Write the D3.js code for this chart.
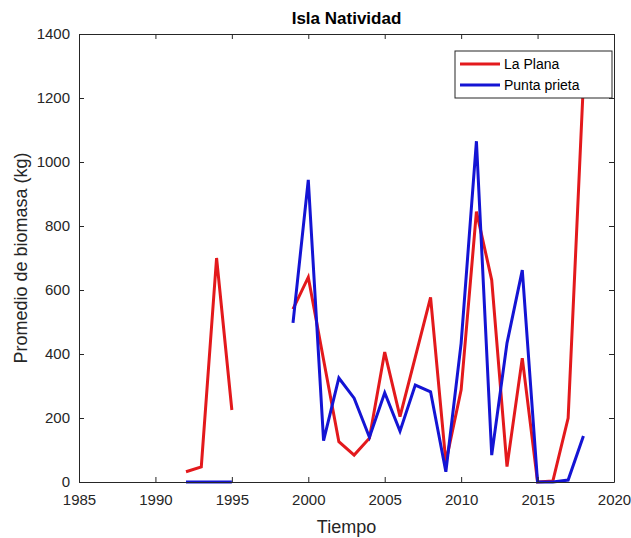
<!DOCTYPE html>
<html>
<head>
<meta charset="utf-8">
<script src="https://cdn.jsdelivr.net/npm/d3@7"></script>
<style>
  html, body { margin: 0; padding: 0; background: #fff; }
  svg { display: block; font-family: "Liberation Sans", Arial, sans-serif; }
</style>
</head>
<body>
<svg id="chart" width="631" height="538"></svg>
<script>
// Annual mean biomass per site (kg); null = no survey that year
const years = [1992, 1993, 1994, 1995, 1996, 1997, 1998, 1999, 2000, 2001, 2002, 2003, 2004, 2005,
               2006, 2007, 2008, 2009, 2010, 2011, 2012, 2013, 2014, 2015, 2016, 2017, 2018];
const laPlana = [32, 47, 700, 225, null, null, null, 540, 640, 382, 126, 84, 137, 406,
                 204, 390, 577, 62, 288, 845, 631, 48, 387, 0, 3, 200, 1250];
const puntaPrieta = [0, 0, 0, 0, null, null, null, 497, 944, 129, 325, 262, 140, 279,
                     159, 303, 282, 32, 434, 1065, 84, 434, 662, 0, 0, 6, 144];

const seriesNames = ["La Plana", "Punta prieta"];
const seriesColors = ["#e3191c", "#1414d4"];
const xTicks = [1985, 1990, 1995, 2000, 2005, 2010, 2015, 2020];
const yTicks = [0, 200, 400, 600, 800, 1000, 1200, 1400];

const titleText = "Isla Natividad";
const xLabel = "Tiempo";
const yLabel = "Promedio de biomasa (kg)";

const svg = d3.select("#chart");
const W = 631, H = 538;
const m = { left: 79, right: 17, top: 34, bottom: 56 };
const iw = W - m.left - m.right, ih = H - m.top - m.bottom;

const x = d3.scaleLinear().domain([1985, 2020]).range([0, iw]);
const y = d3.scaleLinear().domain([0, 1400]).range([ih, 0]);

const g = svg.append("g").attr("transform", `translate(${m.left},${m.top})`);
const axisColor = "#262626";

g.append("defs").append("clipPath").attr("id", "plotClip")
  .append("rect").attr("x", -2).attr("y", 0).attr("width", iw + 4).attr("height", ih + 2);

// Data lines (gaps where null)
const line = d3.line()
  .defined(d => d[1] !== null)
  .x(d => x(d[0]))
  .y(d => y(d[1]));

const series = [laPlana, puntaPrieta];
const lines = g.append("g").attr("clip-path", "url(#plotClip)");
series.forEach((vals, i) => {
  lines.append("path")
    .datum(years.map((yr, j) => [yr, vals[j]]))
    .attr("fill", "none")
    .attr("stroke", seriesColors[i])
    .attr("stroke-width", 3)
    .attr("stroke-linejoin", "miter")
    .attr("d", line);
});

// Axes: bottom/left labelled, top/right mirrored ticks, all pointing inward
const tickLen = 5;
const styleAxis = sel => {
  sel.selectAll("path.domain").attr("stroke", axisColor).attr("stroke-width", 1);
  sel.selectAll(".tick line").attr("stroke", axisColor).attr("stroke-width", 1);
  sel.selectAll(".tick text").attr("fill", axisColor)
    .style("font-size", "15px").style("font-family", "'Liberation Sans', Arial, sans-serif");
};

g.append("g").attr("transform", `translate(0,${ih})`)
  .call(d3.axisBottom(x).tickValues(xTicks).tickFormat(d3.format("d"))
    .tickSizeInner(-tickLen).tickSizeOuter(0).tickPadding(12))
  .call(styleAxis);

g.append("g")
  .call(d3.axisTop(x).tickValues(xTicks).tickFormat("")
    .tickSizeInner(-tickLen).tickSizeOuter(0))
  .call(styleAxis);

g.append("g")
  .call(d3.axisLeft(y).tickValues(yTicks).tickFormat(d3.format("d"))
    .tickSizeInner(-tickLen).tickSizeOuter(0).tickPadding(9))
  .call(styleAxis);

g.append("g").attr("transform", `translate(${iw},0)`)
  .call(d3.axisRight(y).tickValues(yTicks).tickFormat("")
    .tickSizeInner(-tickLen).tickSizeOuter(0))
  .call(styleAxis);

// Title and axis labels
svg.append("text")
  .attr("x", m.left + iw / 2).attr("y", 24)
  .attr("text-anchor", "middle")
  .attr("fill", "#000")
  .style("font-size", "17px").style("font-weight", "bold")
  .text(titleText);

svg.append("text")
  .attr("x", m.left + iw / 2).attr("y", 533)
  .attr("text-anchor", "middle")
  .attr("fill", axisColor)
  .style("font-size", "18px")
  .text(xLabel);

svg.append("text")
  .attr("transform", `translate(27,${m.top + ih / 2}) rotate(-90)`)
  .attr("text-anchor", "middle")
  .attr("fill", axisColor)
  .style("font-size", "18px")
  .text(yLabel);

// Legend (opaque box, top-right of the axes)
const lg = svg.append("g").attr("transform", "translate(455,51)");
lg.append("rect")
  .attr("width", 157).attr("height", 47)
  .attr("fill", "#fff").attr("stroke", axisColor).attr("stroke-width", 1);
seriesNames.forEach((name, i) => {
  const ly = 13 + i * 21;
  lg.append("line")
    .attr("x1", 5).attr("x2", 45).attr("y1", ly).attr("y2", ly)
    .attr("stroke", seriesColors[i]).attr("stroke-width", 3);
  lg.append("text")
    .attr("x", 49).attr("y", ly + 5)
    .attr("fill", "#000")
    .style("font-size", "14px")
    .text(name);
});
</script>
</body>
</html>
